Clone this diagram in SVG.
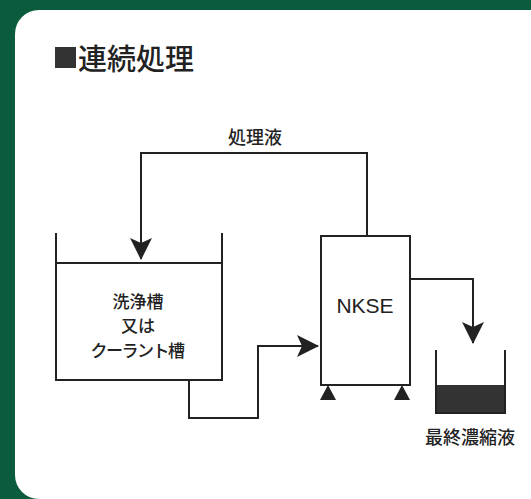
<svg xmlns="http://www.w3.org/2000/svg" width="531" height="499" viewBox="0 0 531 499">
<style>
.ln{fill:none;stroke:#222;stroke-width:2;stroke-linejoin:miter}
.tx{font-family:"Noto Sans CJK JP","Liberation Sans",sans-serif;fill:#222;text-anchor:middle;font-weight:500}
.en{font-family:"Liberation Sans",sans-serif;font-weight:400}
.ah{fill:#222}
</style>
<defs>
<marker id="arr" viewBox="0 0 22 22" refX="21" refY="11" markerWidth="22" markerHeight="22" markerUnits="userSpaceOnUse" orient="auto">
<path class="ah" d="M0,0 L22,11 L0,22 L5,11 Z"/>
</marker>
</defs>
<rect width="531" height="499" fill="#0a5c3c"/>
<rect x="15" y="10" width="540" height="489" rx="24" fill="#fff"/>
<g id="title">
<rect x="55" y="47" width="21" height="21" fill="#333"/>
<text x="78" y="70" font-size="29" font-family="Noto Sans CJK JP, sans-serif" font-weight="500" fill="#222">連続処理</text>
</g>
<g id="connectors">
<path class="ln" d="M367,236 V153 H141 V259" marker-end="url(#arr)"/>
<path class="ln" d="M189,380 V418 H258 V346 H318" marker-end="url(#arr)"/>
<path class="ln" d="M410,279 H473 V343" marker-end="url(#arr)"/>
<text class="tx" x="255" y="144" font-size="18">処理液</text>
</g>
<g id="tank">
<path class="ln" d="M56,233 V380 H222 V233 M56,263 H222"/>
<text class="tx" x="138" y="307.5" font-size="17">洗浄槽</text>
<text class="tx" x="138" y="332" font-size="17">又は</text>
<text class="tx" x="137" y="356.5" font-size="17" letter-spacing="-1.5">クーラント槽</text>
</g>
<g id="nkse">
<rect class="ln" x="321" y="236" width="89" height="149"/>
<path class="ah" d="M328,385 L320,400 H336 Z M402,385 L394,400 H410 Z"/>
<text class="tx en" x="365" y="313" font-size="21">NKSE</text>
</g>
<g id="final">
<rect x="436" y="385" width="69" height="28" fill="#333"/>
<path class="ln" d="M436,350 V413 H505 V350"/>
<text class="tx" x="470" y="444" font-size="18">最終濃縮液</text>
</g>
</svg>
